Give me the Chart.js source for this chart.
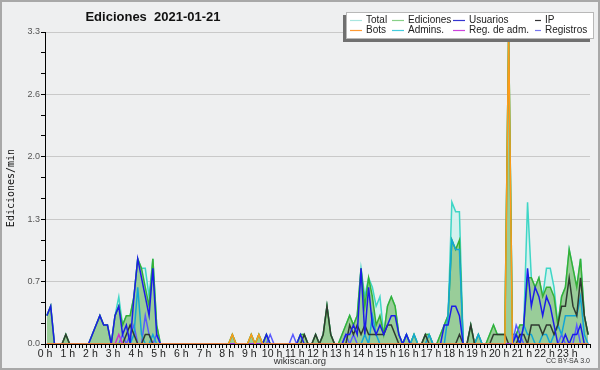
<!DOCTYPE html>
<html><head><meta charset="utf-8">
<script src="https://cdn.jsdelivr.net/npm/chart.js@4/dist/chart.umd.min.js"></script>
<style>html,body{margin:0;padding:0;background:#eeeff0;}canvas{display:block;}</style>
</head><body>
<canvas id="c" width="600" height="370"></canvas>
<script>
const chartTitle = 'Ediciones  2021-01-21';
const yAxisTitle = 'Ediciones/min';
const footerSite = 'wikiscan.org';
const footerLicense = 'CC BY-SA 3.0';
const hourLabels = ['0 h','1 h','2 h','3 h','4 h','5 h','6 h','7 h','8 h','9 h','10 h','11 h','12 h','13 h','14 h','15 h','16 h','17 h','18 h','19 h','20 h','21 h','22 h','23 h'];
const binsPerHour = 6; // 10-minute bins
const yMajorTicks = [0, 0.66, 1.32, 1.98, 2.64, 3.3];
const yTickLabels = ['0.0','0.7','1.3','2.0','2.6','3.3'];
const seriesNames = ['Total','Ediciones','Usuarios','IP','Bots','Admins.','Reg. de adm.','Registros'];

const total = [
 .3,.4,0,0,0,.1,0,0,0,0,0,0,
 .1,.2,.3,.2,.2,0,.3,.5,.2,.3,.3,.5,
 .9,.8,.8,.5,.9,.2,0,0,0,0,0,0,
 0,0,0,0,0,0,0,0,0,0,0,0,
 0,.1,0,0,0,0,.1,0,.1,0,.1,0,
 0,0,0,0,0,0,0,.1,.1,0,0,.1,
 0,.1,.4,.1,0,0,.1,.2,.3,.2,.3,.8,
 .5,.7,.6,.4,.5,.1,.4,.5,.4,.1,0,.1,
 0,.1,0,0,.1,.1,0,0,.1,.2,.3,1.5,
 1.4,1.4,0,0,.2,0,.1,0,0,.1,.2,.1,
 .1,.1,3.3,.1,.1,.2,.2,1.5,.7,.6,.7,.5,
 .8,.8,.6,.2,.5,.6,1.0,.8,.6,.9,.3,.1
];
const ediciones = [
 .3,.4,0,0,0,.1,0,0,0,0,0,0,
 .1,.2,.3,.2,.2,0,.3,.4,.2,.3,.3,.5,
 .9,.8,.6,.4,.9,.2,0,0,0,0,0,0,
 0,0,0,0,0,0,0,0,0,0,0,0,
 0,.1,0,0,0,0,.1,0,.1,0,.1,0,
 0,0,0,0,0,0,0,.1,.1,0,0,.1,
 0,.1,.4,.1,0,0,.1,.2,.3,.2,.3,.8,
 .4,.7,.5,.2,.3,.1,.4,.5,.4,.1,0,.1,
 0,.1,0,0,.1,.1,0,0,.1,.2,.3,1.1,
 1.0,1.1,0,0,.2,0,.1,0,0,.1,.2,.1,
 .1,.1,3.3,.1,.1,.2,.2,.7,.7,.6,.7,.5,
 .6,.6,.5,.2,.5,.6,1.0,.8,.6,.9,.3,.1
];
const usuarios = [
 .3,.4,0,0,0,0,0,0,0,0,0,0,
 .1,.2,.3,.2,.2,0,.3,.4,.1,.2,0,.5,
 .9,.7,.5,.3,.8,.1,0,0,0,0,0,0,
 0,0,0,0,0,0,0,0,0,0,0,0,
 0,0,0,0,0,0,0,0,0,0,.1,0,
 0,0,0,0,0,0,0,.1,0,0,0,0,
 0,0,0,0,0,0,0,.1,.1,.2,.1,.8,
 .1,.6,.2,.1,.2,.1,.2,.3,.3,.1,0,.1,
 0,0,0,0,0,0,0,0,0,.2,.2,.4,
 .4,.3,0,0,0,0,0,0,0,0,0,0,
 0,0,0,0,.1,0,.2,.8,.4,.6,.5,.3,
 .5,.4,.2,0,0,.1,0,.1,.1,.2,0,0
];
const ip = [
 0,0,0,0,0,.1,0,0,0,0,0,0,
 0,0,0,0,0,0,0,0,0,.1,.2,.1,
 0,0,.1,.1,0,0,0,0,0,0,0,0,
 0,0,0,0,0,0,0,0,0,0,0,0,
 0,0,0,0,0,0,0,0,0,0,0,0,
 0,0,0,0,0,0,0,0,.1,0,0,.1,
 0,.1,.4,.1,0,0,0,0,.2,.1,.2,.1,
 .2,.1,.1,.1,.1,.1,.2,.2,.1,0,0,0,
 0,0,0,0,.1,0,0,0,0,0,0,0,
 0,.1,0,0,.2,0,0,0,0,0,.1,.1,
 .1,.1,0,0,0,.1,.1,0,.2,.2,.2,.1,
 .2,.2,.1,.2,.4,.4,.7,.4,.3,.7,.3,.1
];
const bots = [
 0,0,0,0,0,0,0,0,0,0,0,0,
 0,0,0,0,0,0,0,0,0,0,0,0,
 0,0,0,0,0,0,0,0,0,0,0,0,
 0,0,0,0,0,0,0,0,0,0,0,0,
 0,.1,0,0,0,0,.1,0,.1,0,0,0,
 0,0,0,0,0,0,0,0,0,0,0,0,
 0,0,0,0,0,0,0,0,0,0,0,0,
 0,0,0,0,0,0,0,0,0,0,0,0,
 0,0,0,0,0,0,0,0,0,0,0,0,
 0,0,0,0,0,0,0,0,0,0,0,0,
 0,0,3.3,0,0,0,0,0,0,0,0,0,
 0,0,0,0,0,0,0,0,0,0,0,0
];
const admins = [
 0,0,0,0,0,0,0,0,0,0,0,0,
 0,0,0,0,0,0,0,0,0,0,0,.1,
 .6,.1,0,0,.1,0,0,0,0,0,0,0,
 0,0,0,0,0,0,0,0,0,0,0,0,
 0,0,0,0,0,0,0,0,0,0,0,0,
 0,0,0,0,0,0,0,0,0,0,0,0,
 0,0,0,0,0,0,0,0,0,0,0,0,
 .1,0,.3,.1,0,0,0,0,0,0,0,.1,
 0,.1,0,0,0,.1,0,0,0,0,.3,1.1,
 1.0,1.0,0,0,0,0,.1,0,0,0,0,0,
 0,0,0,0,.1,0,.2,.1,.1,0,0,.1,
 .1,0,.1,.2,.1,.3,.3,.3,.3,.5,.1,0
];
const regAdm = [
 0,0,0,0,0,0,0,0,0,0,0,0,
 0,0,0,0,0,0,0,.1,0,0,0,0,
 0,0,0,0,0,0,0,0,0,0,0,0,
 0,0,0,0,0,0,0,0,0,0,0,0,
 0,0,0,0,0,0,0,0,0,0,0,0,
 0,0,0,0,0,0,0,0,0,0,0,0,
 0,0,0,0,0,0,0,0,0,0,0,0,
 0,0,0,0,0,0,0,0,0,0,0,0,
 0,0,0,0,0,0,0,0,0,0,0,0,
 0,0,0,0,0,0,0,0,0,0,0,0,
 0,0,0,0,0,0,0,0,0,0,0,0,
 0,0,0,0,0,0,0,0,0,0,0,0
];
const registros = [
 0,0,0,0,0,0,0,0,0,0,0,0,
 0,0,0,0,0,0,0,0,.1,0,.1,.2,
 0,0,.3,.1,0,.1,0,0,0,0,0,0,
 0,0,0,0,0,0,0,0,0,0,0,0,
 0,0,0,0,0,0,0,0,0,0,0,.1,
 0,0,0,0,0,.1,0,0,0,0,0,0,
 0,0,0,0,0,0,0,.1,0,.1,0,0,
 0,0,0,0,0,0,0,0,0,0,0,0,
 0,0,0,0,0,0,0,0,0,0,0,0,
 0,0,0,0,0,0,0,0,0,0,0,0,
 0,0,0,0,.2,.1,0,0,0,0,0,0,
 0,0,0,0,.1,0,0,0,.2,0,0,0
];

const seriesData = [total, ediciones, usuarios, ip, bots, admins, regAdm, registros];
const styles = [
 {line:'#3fd6c6', fill:'rgba(208,241,237,0.9)', order:10, legend:'#a8e6e0'},
 {line:'#35b035', fill:'#99cd99', order:9, legend:'#88d088'},
 {line:'#1c1ce8', order:5, legend:'#3535d0'},
 {line:'#2f3a30', order:6, legend:'#333333'},
 {line:'#ff9a1a', order:3, legend:'#ff9a33'},
 {line:'#13a6d6', order:7, legend:'#44ccdd'},
 {line:'#cc33cc', order:4, legend:'#cc44dd'},
 {line:'#5a5aff', order:8, legend:'#7777ee'}
];

const datasets = seriesData.map((arr, k) => ({
  label: seriesNames[k],
  data: arr.map((v, i) => ({x: (i + 0.5) / binsPerHour, y: v})),
  borderColor: styles[k].line,
  backgroundColor: styles[k].fill || styles[k].line,
  fill: styles[k].fill ? 'origin' : false,
  borderWidth: 1.5,
  pointRadius: 0,
  tension: 0,
  order: styles[k].order
}));

const decor = {
  id: 'decor',
  beforeDraw(chart) {
    const c = chart.ctx;
    c.save();
    c.fillStyle = '#eeeff0';
    c.fillRect(0, 0, chart.width, chart.height);
    c.restore();
  },
  afterDraw(chart) {
    const c = chart.ctx;
    c.save();
    c.strokeStyle = '#a8a8a8';
    c.lineWidth = 2;
    c.strokeRect(1, 1, chart.width - 2, chart.height - 2);
    c.fillStyle = '#111';
    c.font = 'bold 13px "Liberation Sans", Arial, sans-serif';
    c.textAlign = 'center';
    c.textBaseline = 'middle';
    c.fillText(chartTitle, 153, 17);
    c.save();
    c.translate(11, 188);
    c.rotate(-Math.PI / 2);
    c.font = '10px "DejaVu Sans Mono", monospace';
    c.fillStyle = '#111';
    c.fillText(yAxisTitle, 0, 0);
    c.restore();
    c.font = '9.5px "Liberation Sans", Arial, sans-serif';
    c.fillStyle = '#333';
    c.fillText(footerSite, 300, 361);
    c.font = '7px "Liberation Sans", Arial, sans-serif';
    c.textAlign = 'right';
    c.fillText(footerLicense, 590, 361);
    c.fillStyle = '#707070';
    c.fillRect(343, 15, 247, 27);
    c.fillStyle = '#ffffff';
    c.fillRect(346, 12, 247, 27);
    c.strokeStyle = '#b8b8b8';
    c.lineWidth = 1;
    c.strokeRect(346.5, 12.5, 247, 26);
    const colStart = [350, 392, 453, 535];
    const textX = [366, 408, 469, 545];
    const rowY = [19.5, 29.5];
    c.font = '10px "Liberation Sans", Arial, sans-serif';
    c.textAlign = 'left';
    for (let k = 0; k < seriesNames.length; k++) {
      const col = k % 4, row = Math.floor(k / 4);
      const y = rowY[row];
      c.strokeStyle = styles[k].legend;
      c.lineWidth = 1.2;
      c.beginPath();
      c.moveTo(colStart[col], Math.round(y) + 0.5);
      c.lineTo(textX[col] - 4, Math.round(y) + 0.5);
      c.stroke();
      c.fillStyle = '#222';
      c.fillText(seriesNames[k], textX[col], y + 0.5);
    }
    c.restore();
  }
};

new Chart(document.getElementById('c'), {
  type: 'line',
  data: { datasets },
  options: {
    responsive: false,
    animation: false,
    devicePixelRatio: 1,
    layout: { padding: { top: 32, right: 10, bottom: 12, left: 0 } },
    plugins: { legend: { display: false }, tooltip: { enabled: false } },
    scales: {
      x: {
        type: 'linear',
        min: 0,
        max: hourLabels.length,
        afterBuildTicks(scale) {
          const t = [];
          for (let k = 0; k <= hourLabels.length * binsPerHour; k++) t.push({ value: k / binsPerHour });
          scale.ticks = t;
        },
        afterFit(scale) { scale.height = 14; },
        ticks: {
          autoSkip: false, maxRotation: 0, minRotation: 0, padding: 0,
          color: '#222',
          font: { family: '"Liberation Sans", Arial, sans-serif', size: 10.5 },
          callback: (v, idx) => (idx % binsPerHour === 0 && idx / binsPerHour < hourLabels.length) ? hourLabels[idx / binsPerHour] : ''
        },
        grid: { drawOnChartArea: false, tickLength: 4, tickColor: '#000', tickWidth: 1 },
        border: { color: '#000', width: 1 }
      },
      y: {
        type: 'linear',
        min: 0,
        max: yMajorTicks[yMajorTicks.length - 1],
        afterBuildTicks(scale) {
          const t = [];
          for (let j = 0; j < yMajorTicks.length; j++) {
            t.push({ value: yMajorTicks[j] });
            if (j < yMajorTicks.length - 1) {
              const a = yMajorTicks[j], b = yMajorTicks[j + 1];
              t.push({ value: a + (b - a) / 3 });
              t.push({ value: a + 2 * (b - a) / 3 });
            }
          }
          scale.ticks = t;
        },
        afterFit(scale) { scale.width = 45; },
        ticks: {
          autoSkip: false, padding: 1,
          color: '#555',
          font: { family: '"Liberation Sans", Arial, sans-serif', size: 9 },
          callback: (v, idx) => idx % 3 === 0 ? yTickLabels[idx / 3] : ''
        },
        grid: {
          color: ctx => (ctx.index % 3 === 0 && ctx.index > 0) ? '#c9c9c9' : 'rgba(0,0,0,0)',
          tickColor: '#000',
          tickLength: 4,
          lineWidth: 1
        },
        border: { color: '#000', width: 1 }
      }
    }
  },
  plugins: [decor]
});
</script>
</body></html>
